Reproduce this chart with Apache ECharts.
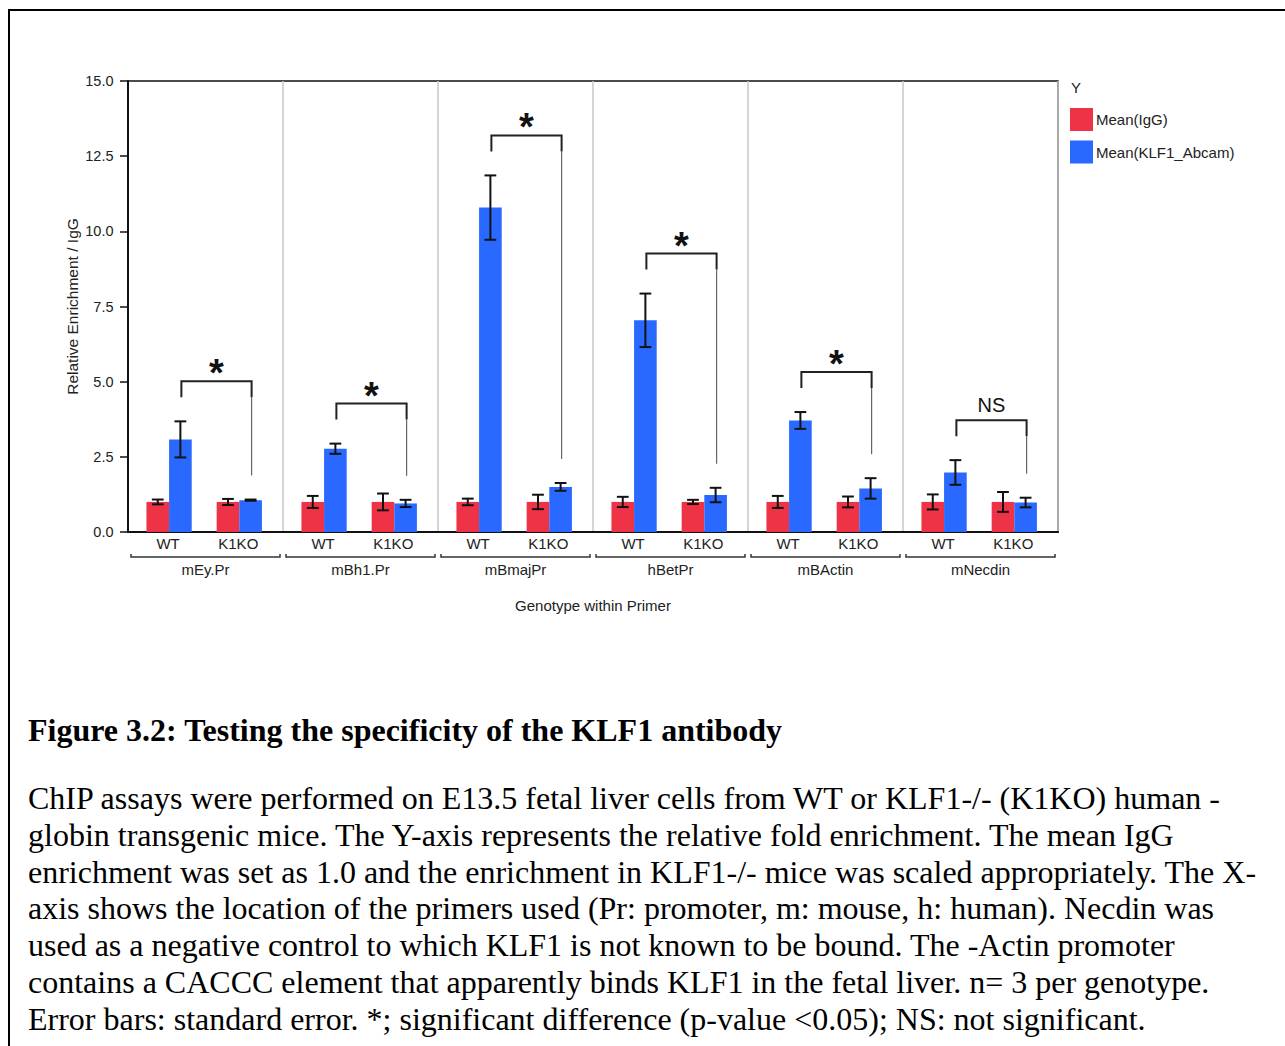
<!DOCTYPE html>
<html>
<head>
<meta charset="utf-8">
<title>Testing the specificity of the KLF1 antibody</title>
<script src="https://cdn.jsdelivr.net/npm/echarts@6/dist/echarts.min.js"></script>
<style>
  html, body { margin: 0; padding: 0; background: #fff; }
  #page { position: relative; width: 1285px; height: 1046px; overflow: hidden; }
  #frame { position: absolute; left: 8px; top: 9px; width: 1400px; height: 1100px;
           border-top: 2px solid #000; border-left: 2px solid #000; }
  #chart { position: absolute; left: 0; top: 0; width: 1285px; height: 660px; }
  .cap { position: absolute; left: 28px; margin: 0; color: #000; white-space: pre;
         font-family: "Liberation Serif", "Times New Roman", serif; font-size: 32px; line-height: 36.8px; }
  #capTitle { top: 712px; font-weight: bold; }
  #capBody { top: 780px; }
</style>
</head>
<body>
<div id="page">
  <div id="frame"></div>
  <div id="chart"></div>
  <p class="cap" id="capTitle">Figure 3.2: Testing the specificity of the KLF1 antibody</p>
  <p class="cap" id="capBody">ChIP assays were performed on E13.5 fetal liver cells from WT or KLF1-/- (K1KO) human -
globin transgenic mice. The Y-axis represents the relative fold enrichment. The mean IgG
enrichment was set as 1.0 and the enrichment in KLF1-/- mice was scaled appropriately. The X-
axis shows the location of the primers used (Pr: promoter, m: mouse, h: human). Necdin was
used as a negative control to which KLF1 is not known to be bound. The -Actin promoter
contains a CACCC element that apparently binds KLF1 in the fetal liver. n= 3 per genotype.
Error bars: standard error. *; significant difference (p-value &lt;0.05); NS: not significant.</p>
</div>
<script>
// Primers (outer x categories) and genotypes (inner groups)
const primers = ['mEy.Pr', 'mBh1.Pr', 'mBmajPr', 'hBetPr', 'mBActin', 'mNecdin'];
const genotypes = ['WT', 'K1KO'];

// Mean relative enrichment and standard error, one value per primer
const iggWT      = [1.00, 1.00, 1.00, 1.00, 1.00, 1.00];
const iggWTse    = [0.08, 0.20, 0.11, 0.17, 0.20, 0.25];
const iggKO      = [1.00, 1.00, 1.00, 1.00, 1.00, 1.00];
const iggKOse    = [0.10, 0.28, 0.24, 0.07, 0.18, 0.33];
const klf1WT     = [3.08, 2.77, 10.79, 7.04, 3.71, 1.98];
const klf1WTse   = [0.60, 0.17, 1.07, 0.89, 0.28, 0.41];
const klf1KO     = [1.06, 0.95, 1.50, 1.23, 1.45, 0.98];
const klf1KOse   = [0.02, 0.12, 0.13, 0.24, 0.34, 0.16];

// WT vs K1KO comparison result for the KLF1 pull-down
const significance = ['*', '*', '*', '*', '*', 'NS'];

const seriesNames = ['Mean(IgG)', 'Mean(KLF1_Abcam)'];
const colors = ['#EF3347', '#2A69FF'];

// Layout of the pairs inside one primer band (fractions of the band width)
const PAIR_POS = [0.265, 0.718];
const BAR_FRAC = 0.146;
const FONT = '"Liberation Sans", Arial, Helvetica, sans-serif';
const INK = '#222';

function barLayout(api, i, k, side) {
  const w = api.size([1, 0])[0];
  const base = api.coord([i, 0]);
  const pairX = base[0] - w / 2 + w * PAIR_POS[k];
  const bw = w * BAR_FRAC;
  const x0 = side === 0 ? pairX - bw : pairX;
  return { w, base, pairX, bw, x0, cx: x0 + bw / 2 };
}

function barSeries(side, wt, wtSE, ko, koSE) {
  const data = [];
  primers.forEach((p, i) => {
    data.push([i, 0, wt[i], wtSE[i]]);
    data.push([i, 1, ko[i], koSE[i]]);
  });
  return {
    type: 'custom',
    name: seriesNames[side],
    itemStyle: { color: colors[side] },
    encode: { x: 0, y: 2 },
    clip: false,
    data,
    renderItem(params, api) {
      const i = api.value(0), k = api.value(1), m = api.value(2), se = api.value(3);
      const L = barLayout(api, i, k, side);
      const yTop = api.coord([i, m])[1];
      const yHi = api.coord([i, m + se])[1];
      const yLo = api.coord([i, m - se])[1];
      const cap = L.bw * 0.26;
      const err = { stroke: '#111', lineWidth: 2 };
      return {
        type: 'group',
        children: [
          { type: 'rect', shape: { x: L.x0, y: yTop, width: L.bw, height: L.base[1] - yTop },
            style: { fill: colors[side] } },
          { type: 'line', shape: { x1: L.cx, y1: yHi, x2: L.cx, y2: yLo }, style: err },
          { type: 'line', shape: { x1: L.cx - cap, y1: yHi, x2: L.cx + cap, y2: yHi }, style: err },
          { type: 'line', shape: { x1: L.cx - cap, y1: yLo, x2: L.cx + cap, y2: yLo }, style: err }
        ]
      };
    }
  };
}

// Significance brackets over the KLF1 bars, genotype labels and primer braces under the axis
const annotationSeries = {
  type: 'custom',
  name: 'annotations',
  encode: { x: 0, y: 1 },
  clip: false,
  silent: true,
  data: primers.map((p, i) => [i, klf1WT[i] + klf1WTse[i], klf1KO[i] + klf1KOse[i]]),
  renderItem(params, api) {
    const i = api.value(0);
    const wtTop = api.value(1), koTop = api.value(2);
    const Lw = barLayout(api, i, 0, 1);
    const Lk = barLayout(api, i, 1, 1);
    const xl = Lw.cx + 1, xr = Lk.cx + 1;
    const yl = api.coord([i, wtTop])[1] - 24;
    const yr = api.coord([i, koTop])[1] - 24;
    const yb = Math.min(yl, yr) - 16;
    const sig = significance[i];
    const isStar = sig === '*';
    const children = [
      { type: 'polyline', shape: { points: [[xl, yl], [xl, yb], [xr, yb], [xr, yb + 16]] },
        style: { stroke: '#222', lineWidth: 2, fill: null } },
      { type: 'line', shape: { x1: xr, y1: yb + 16, x2: xr, y2: yr },
        style: { stroke: '#666', lineWidth: 1.2 } },
      { type: 'text', x: (xl + xr) / 2, y: yb - (isStar ? 8 : 15),
        style: { text: sig, fill: '#111', align: 'center', verticalAlign: 'middle',
                 fontFamily: FONT, fontSize: isStar ? 38 : 20, fontWeight: isStar ? 'bold' : 'normal' } }
    ];
    // genotype labels
    const y0 = Lw.base[1];
    genotypes.forEach((g, k) => {
      const L = barLayout(api, i, k, 0);
      children.push({ type: 'text', x: L.pairX - 1, y: y0 + 11.5,
        style: { text: g, fill: INK, align: 'center', verticalAlign: 'middle', fontFamily: FONT, fontSize: 15 } });
    });
    // brace grouping the two genotypes of this primer
    const gl = Lw.base[0] - Lw.w / 2 + 3, gr = Lw.base[0] + Lw.w / 2 - 3, gy = y0 + 25;
    children.push({ type: 'polyline', shape: { points: [[gl, gy - 3], [gl, gy], [gr, gy], [gr, gy - 3]] },
      style: { stroke: '#333', lineWidth: 1.5, fill: null } });
    return { type: 'group', children };
  }
};

const chart = echarts.init(document.getElementById('chart'), null, { renderer: 'svg' });
chart.setOption({
  animation: false,
  backgroundColor: 'transparent',
  textStyle: { fontFamily: FONT },
  title: {
    text: 'Y', left: 1071, top: 80, padding: 0,
    textStyle: { fontSize: 15, fontWeight: 'normal', color: INK, fontFamily: FONT }
  },
  legend: {
    data: seriesNames,
    orient: 'vertical', left: 1070, top: 108, padding: 0,
    itemWidth: 23, itemHeight: 23, itemGap: 9.5, icon: 'rect',
    selectedMode: false,
    textStyle: { fontSize: 15, color: INK, fontFamily: FONT, padding: [0, 0, 0, -2] }
  },
  grid: {
    left: 128, top: 81, width: 930, height: 451,
    show: true, borderColor: '#111', borderWidth: 1.5, backgroundColor: 'transparent'
  },
  xAxis: {
    type: 'category',
    data: primers,
    name: 'Genotype within Primer',
    nameLocation: 'middle',
    nameGap: 66,
    nameMoveOverlap: false,
    nameTextStyle: { fontSize: 15, color: INK },
    axisLine: { lineStyle: { color: '#111', width: 2 } },
    axisTick: { show: false },
    axisLabel: { fontSize: 15, color: INK, margin: 30 },
    splitLine: { show: true, interval: 0, lineStyle: { color: '#c8c8c8', width: 1.5 } }
  },
  yAxis: {
    type: 'value',
    min: 0, max: 15, interval: 2.5,
    name: 'Relative Enrichment / IgG',
    nameLocation: 'middle',
    nameGap: 48,
    nameMoveOverlap: false,
    nameTextStyle: { fontSize: 15.5, color: INK },
    axisLine: { show: true, lineStyle: { color: '#111', width: 2 } },
    axisTick: { show: true, length: 8, lineStyle: { color: '#111', width: 1.5 } },
    axisLabel: { fontSize: 14.5, color: INK, margin: 14.5, formatter: v => v.toFixed(1) },
    splitLine: { show: false }
  },
  series: [
    barSeries(0, iggWT, iggWTse, iggKO, iggKOse),
    barSeries(1, klf1WT, klf1WTse, klf1KO, klf1KOse),
    annotationSeries
  ]
});
</script>
</body>
</html>
